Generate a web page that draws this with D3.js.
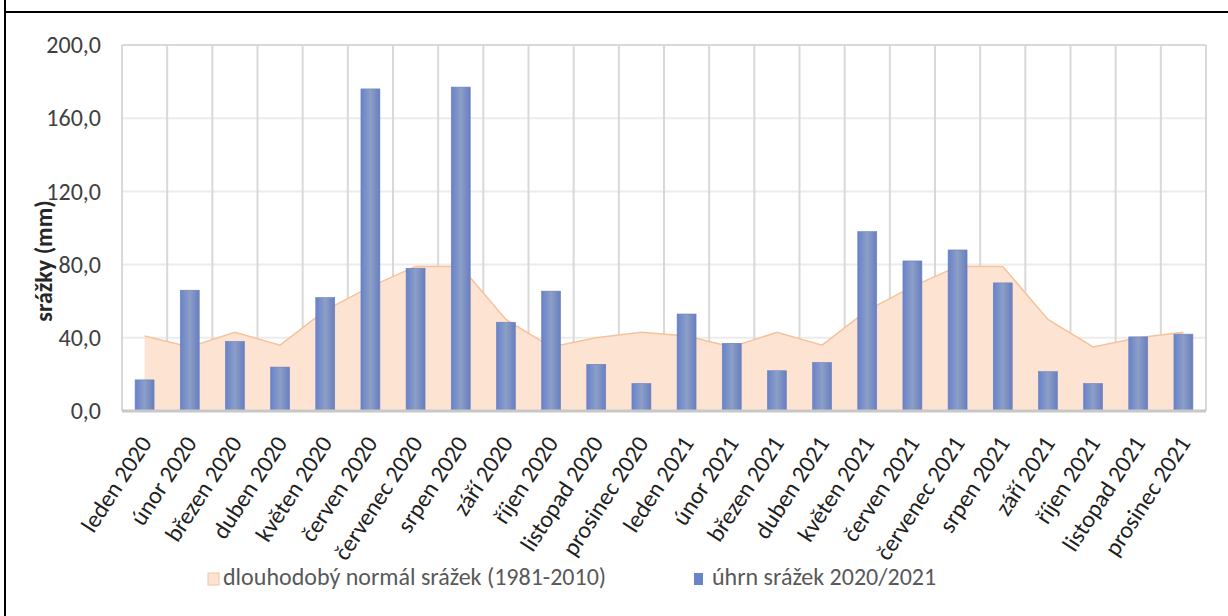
<!DOCTYPE html>
<meta charset="utf-8">
<style>
  body { margin: 0; background: #fff; }
  text { font-family: Carlito, Lato, "Open Sans", sans-serif; }
</style>
<body>
<script src="https://cdn.jsdelivr.net/npm/d3@7"></script>
<script>

var width = 1228,
    height = 616;

// kategorie (mesice)
var categories = [
  "leden 2020", "únor 2020", "březen 2020", "duben 2020", "květen 2020", "červen 2020",
  "červenec 2020", "srpen 2020", "září 2020", "říjen 2020", "listopad 2020", "prosinec 2020",
  "leden 2021", "únor 2021", "březen 2021", "duben 2021", "květen 2021", "červen 2021",
  "červenec 2021", "srpen 2021", "září 2021", "říjen 2021", "listopad 2021", "prosinec 2021"
];

// úhrn srážek 2020/2021 (mm)
var precip = [17, 66, 38, 24, 62, 176, 78, 177, 48.5, 65.5, 25.5, 15,
              53, 37, 22, 26.5, 98, 82, 88, 70, 21.5, 15, 40.5, 42];

// dlouhodobý normál 1981-2010 (mm)
var normal = [41, 35, 43, 36, 55, 68, 79, 79, 50, 35, 40, 43,
              41, 35, 43, 36, 55, 68, 79, 79, 50, 35, 40, 43];

var yTicks = [0, 40, 80, 120, 160, 200];

var legendLabels = ["dlouhodobý normál srážek (1981-2010)", "úhrn srážek 2020/2021"];

var plot = {left: 122, right: 1206, top: 45, bottom: 411};
var fontSize = "24px";

var svg = d3.select("body").append("svg")
    .attr("width", width)
    .attr("height", height);

// bar gradient
var grad = svg.append("defs").append("linearGradient")
    .attr("id", "barGrad")
    .attr("x1", "0%").attr("x2", "100%").attr("y1", "0%").attr("y2", "0%");
grad.append("stop").attr("offset", "0%").attr("stop-color", "#6782cc");
grad.append("stop").attr("offset", "50%").attr("stop-color", "#8c9fc6");
grad.append("stop").attr("offset", "100%").attr("stop-color", "#687ec0");

// frame
svg.append("line").attr("x1", 4).attr("x2", width).attr("y1", 12).attr("y2", 12)
    .attr("stroke", "#000").attr("stroke-width", 2);
svg.append("line").attr("x1", 5).attr("x2", 5).attr("y1", 0).attr("y2", height)
    .attr("stroke", "#000").attr("stroke-width", 2);

var x = d3.scaleBand()
    .domain(categories)
    .range([plot.left, plot.right])
    .paddingInner(0.58)
    .paddingOuter(0.29);

var y = d3.scaleLinear()
    .domain([0, 200])
    .range([plot.bottom, plot.top]);

var step = x.step();
var cx = function(d) { return x(d) + x.bandwidth() / 2; };

// horizontal gridlines
svg.append("g")
    .selectAll("line")
    .data(yTicks.slice(1))
    .enter().append("line")
    .attr("x1", plot.left).attr("x2", plot.right)
    .attr("y1", d => y(d)).attr("y2", d => y(d))
    .attr("stroke", d => d == 200 ? "#d9d9d9" : "#ececec")
    .attr("stroke-width", 2);

// vertical gridlines on category boundaries
var bounds = categories.map(d => cx(d) - step / 2).concat([plot.right]);
svg.append("g")
    .selectAll("line")
    .data(bounds)
    .enter().append("line")
    .attr("x1", d => d).attr("x2", d => d)
    .attr("y1", plot.top).attr("y2", plot.bottom)
    .attr("stroke", "#d9d9d9")
    .attr("stroke-width", 2);

// area - normal
var area = d3.area()
    .x((d, i) => cx(categories[i]))
    .y0(y(0))
    .y1(d => y(d));

var line = d3.line()
    .x((d, i) => cx(categories[i]))
    .y(d => y(d));

svg.append("path")
    .datum(normal)
    .attr("d", area)
    .attr("fill", "#fde4d2");

svg.append("path")
    .datum(normal)
    .attr("d", line)
    .attr("fill", "none")
    .attr("stroke", "#f6c29c")
    .attr("stroke-width", 1.5);

// bars
svg.append("g")
    .selectAll("rect")
    .data(precip)
    .enter().append("rect")
    .attr("x", (d, i) => x(categories[i]))
    .attr("width", x.bandwidth())
    .attr("y", d => y(d))
    .attr("height", d => y(0) - y(d))
    .attr("fill", "url(#barGrad)")
    .attr("stroke", "#6a7fbe")
    .attr("stroke-width", 0.6);

// x axis line
svg.append("line")
    .attr("x1", plot.left).attr("x2", plot.right)
    .attr("y1", y(0)).attr("y2", y(0))
    .attr("stroke", "#c8c8c8")
    .attr("stroke-width", 3);

// y axis
var fmt = d => d3.format(".1f")(d).replace(".", ",");
var yAxis = svg.append("g")
    .attr("transform", "translate(" + (plot.left - 21) + ",0)")
    .call(d3.axisLeft(y).tickValues(yTicks).tickFormat(fmt).tickSize(0).tickPadding(0));
yAxis.select(".domain").remove();
yAxis.selectAll("text")
    .style("font-size", fontSize)
    .attr("fill", "#404040");

// y title
svg.append("text")
    .attr("transform", "translate(52,261) rotate(-90)")
    .attr("text-anchor", "middle")
    .style("font-size", fontSize)
    .style("font-weight", "bold")
    .attr("fill", "#262626")
    .text("srážky (mm)");

// x axis labels
var xAxis = svg.append("g")
    .attr("transform", "translate(0," + y(0) + ")")
    .call(d3.axisBottom(x).tickSize(0).tickPadding(0));
xAxis.select(".domain").remove();
xAxis.selectAll("text")
    .attr("text-anchor", "end")
    .attr("dy", 0)
    .attr("y", 0)
    .attr("transform", "translate(8,32) rotate(-57)")
    .style("font-size", fontSize)
    .attr("fill", "#1f1f1f");

// legend
var legend = svg.append("g");
legend.append("rect")
    .attr("x", 208).attr("y", 573).attr("width", 11).attr("height", 12)
    .attr("fill", "#fde4d2").attr("stroke", "#f3c2a0").attr("stroke-width", 1);
legend.append("text")
    .attr("x", 223).attr("y", 585)
    .style("font-size", fontSize)
    .attr("fill", "#595959")
    .text(legendLabels[0]);
legend.append("rect")
    .attr("x", 694).attr("y", 573).attr("width", 9).attr("height", 12)
    .attr("fill", "#6a84c8");
legend.append("text")
    .attr("x", 712).attr("y", 585)
    .style("font-size", fontSize)
    .attr("fill", "#595959")
    .text(legendLabels[1]);

</script>
